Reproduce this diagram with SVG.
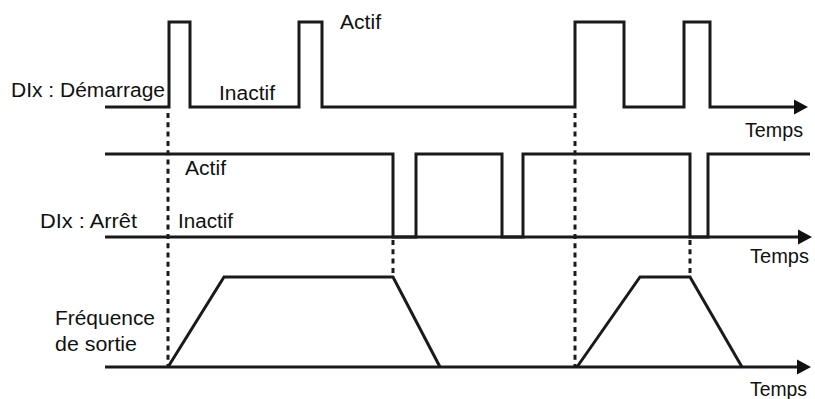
<svg xmlns="http://www.w3.org/2000/svg" width="815" height="399" viewBox="0 0 815 399">
<style>
.sig{fill:none;stroke:#1a1a1a;stroke-width:3;stroke-linejoin:miter;stroke-linecap:butt}
.axis{fill:none;stroke:#1a1a1a;stroke-width:3}
.dot{fill:none;stroke:#1a1a1a;stroke-width:3;stroke-dasharray:5 4.3}
.t{font-family:"Liberation Sans",Arial,sans-serif;font-size:19.5px;fill:#111}
</style>
<defs>
<marker id="arr" markerUnits="userSpaceOnUse" markerWidth="14" markerHeight="16" refX="2" refY="8" orient="auto">
<path d="M0,0.5 L14,8 L0,15.5 z" fill="#111"/>
</marker>
</defs>
<rect width="815" height="399" fill="#fff"/>
<g id="connectors">
<line class="dot" x1="168" y1="113" x2="168" y2="366"/>
<line class="dot" x1="393" y1="240" x2="393" y2="276"/>
<line class="dot" x1="575" y1="113" x2="575" y2="366"/>
<line class="dot" x1="690" y1="240" x2="690" y2="276"/>
</g>
<g id="demarrage">
<path class="sig" d="M105,107 H169 V22 H190 V107 H299 V22 H322 V107 H575 V22 H624 V107 H684 V22 H710 V107 H796" marker-end="url(#arr)"/>
<text class="t" x="11" y="97" textLength="154" lengthAdjust="spacingAndGlyphs">DIx : Démarrage</text>
<text class="t" x="219" y="100" textLength="56" lengthAdjust="spacingAndGlyphs">Inactif</text>
<text class="t" x="340" y="29" textLength="41" lengthAdjust="spacingAndGlyphs">Actif</text>
<text class="t" x="745" y="137" textLength="58" lengthAdjust="spacingAndGlyphs">Temps</text>
</g>
<g id="arret">
<line class="axis" x1="105" y1="237" x2="800" y2="237" marker-end="url(#arr)"/>
<path class="sig" d="M105,154 H393 V237 H416 V154 H502 V237 H523 V154 H690 V237 H708 V154 H810"/>
<text class="t" x="40" y="228" textLength="97" lengthAdjust="spacingAndGlyphs">DIx : Arrêt</text>
<text class="t" x="185" y="175" textLength="41" lengthAdjust="spacingAndGlyphs">Actif</text>
<text class="t" x="178" y="228" textLength="55" lengthAdjust="spacingAndGlyphs">Inactif</text>
<text class="t" x="750" y="263" textLength="59" lengthAdjust="spacingAndGlyphs">Temps</text>
</g>
<g id="frequence">
<line class="axis" x1="105" y1="367" x2="799" y2="367" marker-end="url(#arr)"/>
<path class="sig" d="M168,367 L224,277 H393 L440,367"/>
<path class="sig" d="M577,367 L640,277 H690 L742,367"/>
<text class="t" x="55" y="325" textLength="100" lengthAdjust="spacingAndGlyphs">Fréquence</text>
<text class="t" x="55" y="351" textLength="82" lengthAdjust="spacingAndGlyphs">de sortie</text>
<text class="t" x="750" y="396" textLength="57" lengthAdjust="spacingAndGlyphs">Temps</text>
</g>
</svg>
